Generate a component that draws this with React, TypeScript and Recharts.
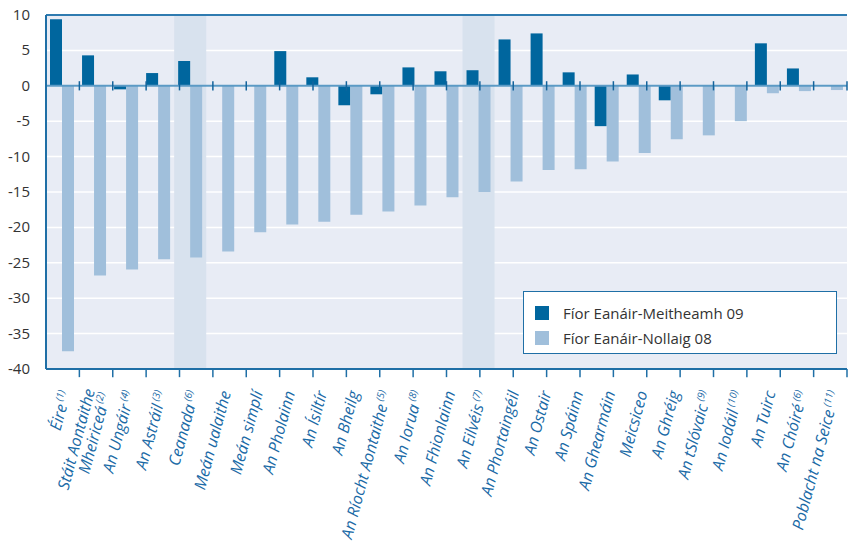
import {
  BarChart,
  Bar,
  XAxis,
  YAxis,
  CartesianGrid,
  ReferenceArea,
  ReferenceLine,
  Legend,
} from 'recharts';

// categories, in chart order ('\n' splits a two-line label)
const categories = [
  'Éire', 'Stáit Aontaithe\nMheiriceá', 'An Ungáir', 'An Astráil', 'Ceanada',
  'Meán ualaithe', 'Meán simplí', 'An Pholainn', 'An Ísiltír', 'An Bheilg',
  'An Ríocht Aontaithe', 'An Iorua', 'An Fhionlainn', 'An Eilvéis', 'An Phortaingéil',
  'An Ostair', 'An Spáinn', 'An Ghearmáin', 'Meicsiceo', 'An Ghréig',
  'An tSlóvaic', 'An Iodáil', 'An Tuirc', 'An Chóiré', 'Poblacht na Seice',
];

const footnotes = [
  '1', '2', '4', '3', '6',
  '', '', '', '', '',
  '5', '8', '', '7', '',
  '', '', '', '', '',
  '9', '10', '', '6', '11',
];

// Fíor Eanáir-Meitheamh 09
const janJun09 = [
  9.4, 4.3, -0.5, 1.8, 3.5,
  null, null, 4.9, 1.2, -2.75,
  -1.2, 2.6, 2.05, 2.2, 6.55,
  7.4, 1.9, -5.7, 1.6, -2.05,
  null, null, 6.0, 2.45, null,
];

// Fíor Eanáir-Nollaig 08
const janDec08 = [
  -37.5, -26.8, -25.95, -24.5, -24.25,
  -23.4, -20.7, -19.6, -19.2, -18.2,
  -17.75, -16.9, -15.75, -15.0, -13.5,
  -11.9, -11.8, -10.7, -9.5, -7.55,
  -7.0, -5.0, -1.05, -0.75, -0.6,
];

const yTicks = [10, 5, 0, -5, -10, -15, -20, -25, -30, -35, -40];
const shaded = ['Ceanada', 'An Eilvéis'];

const SERIES = [
  { key: 'jun09', label: 'Fíor Eanáir-Meitheamh 09', color: '#00669e' },
  { key: 'dec08', label: 'Fíor Eanáir-Nollaig 08', color: '#a0bfdb' },
];

const FONT = '"Open Sans", sans-serif';
const AXIS_BLUE = '#1f6fa6';

const data = categories.map((name, i) => ({
  name,
  jun09: janJun09[i],
  dec08: janDec08[i],
}));

// category boundaries, on a hidden 0..n numeric axis
const boundaries = categories.slice(1).map((_, i) => i + 1);

function CategoryTick({ x, y, payload }: any) {
  const idx = categories.indexOf(payload.value);
  const lines: string[] = payload.value.split('\n');
  const note = footnotes[idx];
  const lh = 16;
  return (
    <g transform={`translate(${x + 3},${y + 14})`}>
      <text
        transform="rotate(-75)"
        textAnchor="end"
        fill="#1a6aa6"
        fontSize={16}
        fontStyle="italic"
        fontFamily={FONT}
      >
        {lines.map((line, li) => (
          <tspan key={li} x={0} y={(li - (lines.length - 1) / 2) * lh + 6}>
            {line}
            {li === lines.length - 1 && note ? (
              <tspan fontSize={10} dy={-6}>{` (${note})`}</tspan>
            ) : null}
          </tspan>
        ))}
      </text>
    </g>
  );
}

function ValueTick({ y, payload }: any) {
  return (
    <text x={30} y={y} dy={5} textAnchor="end" fill="#333" fontSize={15} fontFamily={FONT}>
      {payload.value}
    </text>
  );
}

function LegendBox() {
  return (
    <div
      style={{
        background: '#fff',
        border: `1px solid ${AXIS_BLUE}`,
        height: 63,
        padding: '8px 0 0 11px',
        boxSizing: 'border-box',
        fontFamily: FONT,
        fontSize: 15,
        color: '#333',
      }}
    >
      {SERIES.map((s) => (
        <div key={s.key} style={{ display: 'flex', alignItems: 'center', height: 25 }}>
          <span style={{ width: 14, height: 14, background: s.color, marginRight: 14 }} />
          {s.label}
        </div>
      ))}
    </div>
  );
}

export default function App() {
  return (
    <div style={{ position: 'absolute', left: 0, top: 0 }}>
      <BarChart
        width={848}
        height={542}
        data={data}
        margin={{ top: 15, right: 1, bottom: 0, left: 0 }}
        barGap={0}
        barSize={12}
      >
        <CartesianGrid vertical={false} fill="#e8ecf5" stroke="#ffffff" strokeWidth={1.5} />
        {shaded.map((c) => (
          <ReferenceArea key={c} x1={c} x2={c} fill="#d8e2ee" fillOpacity={1} stroke="none" />
        ))}
        <XAxis
          dataKey="name"
          interval={0}
          height={173}
          tickLine={false}
          axisLine={{ stroke: AXIS_BLUE, strokeWidth: 2 }}
          tick={<CategoryTick />}
        />
        <XAxis xAxisId="b" type="number" domain={[0, categories.length]} hide />
        <YAxis
          width={46}
          domain={[-40, 10]}
          ticks={yTicks}
          interval={0}
          tickLine={false}
          axisLine={{ stroke: AXIS_BLUE, strokeWidth: 2 }}
          tick={<ValueTick />}
        />
        {SERIES.map((s) => (
          <Bar key={s.key} dataKey={s.key} name={s.label} fill={s.color} isAnimationActive={false} />
        ))}
        <ReferenceLine y={0} stroke="#5b9ac5" strokeWidth={2} />
        <ReferenceLine y={10} stroke="#2f7bb0" strokeWidth={2} />
        {boundaries.map((b) => (
          <ReferenceLine
            key={`z${b}`}
            xAxisId="b"
            segment={[{ x: b, y: 0.65 }, { x: b, y: -0.65 }]}
            stroke="#14649c"
            strokeWidth={1.5}
          />
        ))}
        {boundaries.map((b) => (
          <ReferenceLine
            key={`t${b}`}
            xAxisId="b"
            ifOverflow="visible"
            segment={[{ x: b, y: -40 }, { x: b, y: -41.15 }]}
            stroke={AXIS_BLUE}
            strokeWidth={1.5}
          />
        ))}
        <Legend
          layout="vertical"
          align="center"
          verticalAlign="middle"
          wrapperStyle={{ left: 523, top: 291, width: 314 }}
          content={() => <LegendBox />}
        />
      </BarChart>
    </div>
  );
}
